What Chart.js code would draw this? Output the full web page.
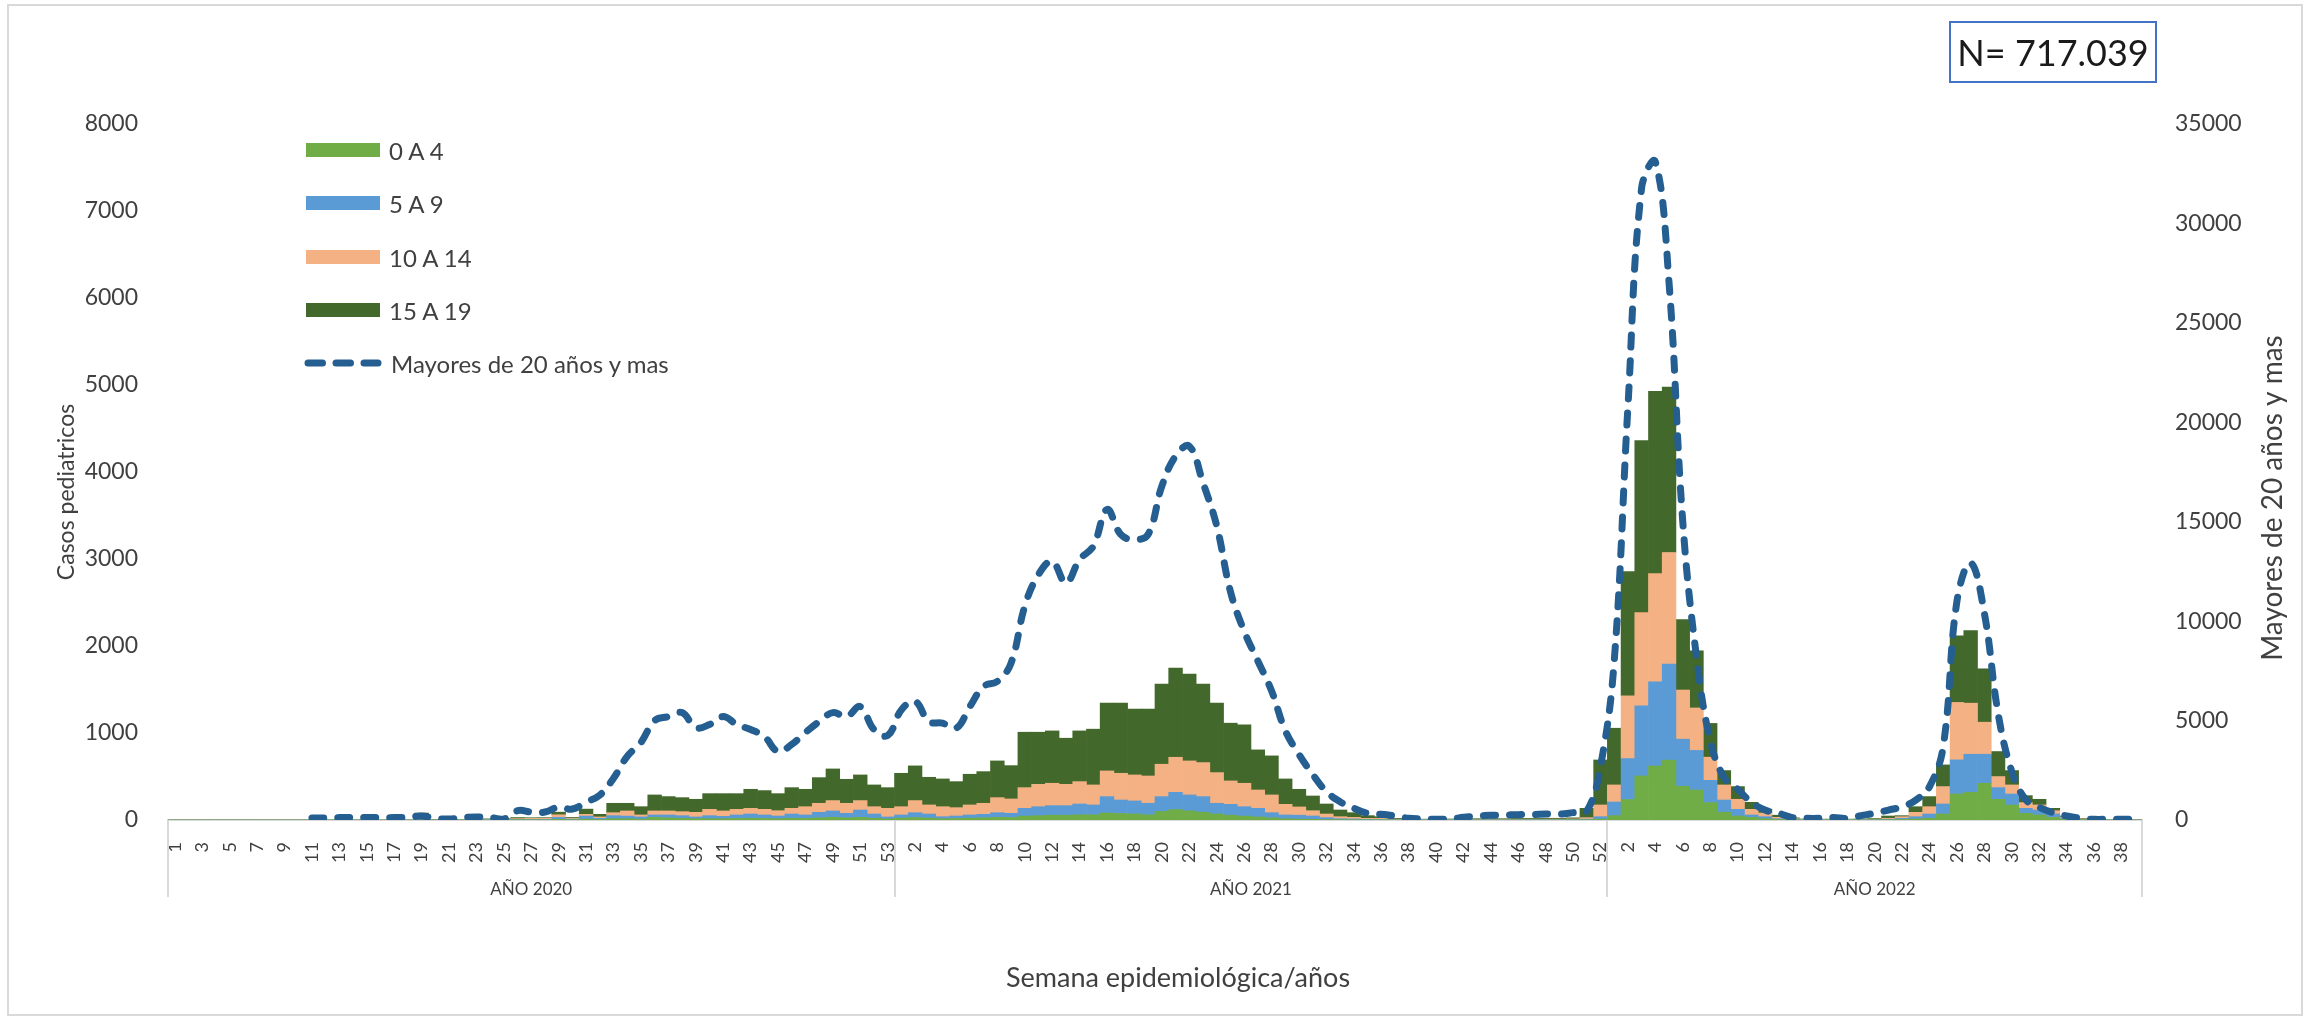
<!DOCTYPE html>
<html>
<head>
<meta charset="utf-8">
<script src="https://cdn.jsdelivr.net/npm/chart.js@4.4.1/dist/chart.umd.min.js"></script>
<style>
  body { margin: 0; background: #fff; }
  #wrap { position: relative; width: 2323px; height: 1020px; font-family: Lato, "Open Sans", sans-serif; color: #404040; }
  #c { position: absolute; left: 0; top: 0; }
  .leg { position: absolute; left: 304px; height: 30px; display: flex; align-items: center; font-size: 24px; white-space: nowrap; }
  .sw { width: 74px; height: 14px; margin-left: 2px; margin-right: 9px; }
  .nbox { position: absolute; left: 1949px; top: 21px; width: 204px; height: 58px; border: 2px solid #4472C4; font-size: 36px; color: #1a1a1a; display: flex; align-items: center; justify-content: center; }
</style>
</head>
<body>
<div id="wrap">
  <canvas id="c" width="2323" height="1020"></canvas>
  <div class="nbox">N= 717.039</div>
  <div id="legend"></div>
</div>
<script>
// ---- categories / tick labels ----
const years = ["AÑO 2020", "AÑO 2021", "AÑO 2022"];
const weeks2020 = [1,2,3,4,5,6,7,8,9,10,11,12,13,14,15,16,17,18,19,20,21,22,23,24,25,26,27,28,29,30,31,32,33,34,35,36,37,38,39,40,41,42,43,44,45,46,47,48,49,50,51,52,53];
const weeks2021 = [1,2,3,4,5,6,7,8,9,10,11,12,13,14,15,16,17,18,19,20,21,22,23,24,25,26,27,28,29,30,31,32,33,34,35,36,37,38,39,40,41,42,43,44,45,46,47,48,49,50,51,52];
const weeks2022 = [1,2,3,4,5,6,7,8,9,10,11,12,13,14,15,16,17,18,19,20,21,22,23,24,25,26,27,28,29,30,31,32,33,34,35,36,37,38,39];
const axisTitles = { x: "Semana epidemiológica/años", left: "Casos pediatricos", right: "Mayores de 20 años y mas" };

// ---- series (pediatric, left axis) ----
const age0to4 = [
  // 2020
  0,0,0,0,0,0,0,0,0,0,0,0,0,0,0,0,0,0,
  2,0,0,1,1,1,1,2,2,2, 8,3,10,5,15,15,10,30,25,20, 15,15,15,18,20,18,15,20,18,25, 31,25,30,20,12,
  // 2021
  22,28,22,15,18,22,25,30,28,45, 50,55,55,60,60,80,75,70,60,100, 120,105,90,70,55,45,35,25,15,10,
  8,5,4,3,2,2,1,1,1,1, 1,1,1,1,1,1,1,1,1,2, 3,10,
  // 2022
  50,235,506,621,688,388,345,200,90,46, 31,15,6,3,1,1,1,1,1,2, 3,6,12,20,69,299,318,422,238,173,
  77,58,30,10,4,1,1,1,0
];
const age5to9 = [
  0,0,0,0,0,0,0,0,0,0,0,0,0,0,0,0,0,0,
  3,1,1,1,2,2,2,4,4,5, 22,8,35,15,35,30,25,28,33,30, 20,35,27,40,49,40,31,49,40,63, 73,52,85,49,23,
  36,56,47,23,28,36,40,54,49,89, 103,110,110,124,113,189,155,149,132,169, 198,183,179,122,125,108,99,59,43,45,
  38,22,11,9,6,4,3,2,1,1, 2,2,2,2,2,3,3,3,3,4, 7,28,
  157,472,807,967,1105,541,455,256,140,77, 27,23,9,5,2,2,2,2,2,3, 6,13,26,49,115,392,438,334,134,126,
  57,57,39,12,5,2,1,1,1
];
const age10to14 = [
  0,0,0,0,0,0,0,0,0,0,0,0,0,0,0,0,0,0,
  5,2,2,2,3,4,4,10,12,12, 30,10,20,15,34,59,23,46,46,46, 53,73,62,65,65,65,61,65,95,104, 119,115,108,84,99,
  95,139,104,115,96,115,127,173,165,238, 257,257,245,257,230,295,307,299,314,372, 403,391,391,353,269,269,211,204,122,95,
  61,42,23,19,11,13,6,3,3,3, 3,3,4,4,4,5,5,6,6,7, 17,135,
  196,720,1070,1243,1282,565,488,266,173,115, 65,42,16,7,4,3,3,3,4,6, 11,19,50,84,200,660,587,368,127,104,
  66,58,38,12,5,2,1,1,1
];
const age15to19 = [
  0,0,0,0,0,0,0,0,0,0,0,0,0,0,0,0,0,0,
  70,5,3,4,5,6,8,12,8,8, 30,9,60,30,108,88,95,184,165,161, 150,180,199,180,219,215,196,238,200,295, 364,276,295,250,238,
  384,399,318,319,299,353,364,422,383,637, 599,602,530,583,641,779,806,756,768,921, 1025,998,902,798,664,672,461,449,292,203,
  169,115,77,53,31,19,9,6,5,5, 6,6,8,8,8,9,9,10,10,12, 107,517,
  652,1428,1979,2095,1902,811,657,388,165,146, 80,45,24,10,5,4,4,4,5,7, 26,12,65,116,249,767,833,614,288,165,
  80,65,27,12,5,1,1,0,0
];
// ---- adults (right axis) ----
const adults20plus = [
  null,null,null,null,null,null,null,null,null,null,
  100,100,120,120,120,120,120,130,200,80, 50,120,150,130,50,470,400,400,650,550,
  900,1250,2100,3200,3900,5000,5200,5400,4650,4800, 5200,4800,4550,4200,3450,3800,4400,4950,5400,5200,
  5700,4550,4250,
  5540,5960,4950,4870,4620,5710,6720,6970,7890,10750, 12340,13010,11920,13100,13770,15620,14360,14100,14360,16790,
  18300,18800,16960,14800,11500,9500,8000,6500,4500,3300, 2300,1430,920,590,340,285,200,85,50,35,
  50,134,200,235,250,270,270,300,300,370, 450,2700,
  8000,20800,31800,33100,27000,15000,8200,4000,2150,1550, 900,500,340,120,85,85,120,85,220,340,
  500,670,1000,1680,3700,11000,12930,10400,5370,2440, 1040,640,370,200,85,35,35,35,35
];
const seriesNames = ["0 A 4", "5 A 9", "10 A 14", "15 A 19", "Mayores de 20 años y mas"];
const seriesColors = ["#70AD47", "#5B9BD5", "#F4B183", "#43682B", "#255E91"];
const leftTicks = [0, 8000, 1000];
const rightTicks = [0, 35000, 5000];

// ---- build ----
const weekLabels = [].concat(weeks2020, weeks2021, weeks2022);
const groupSizes = [weeks2020.length, weeks2021.length, weeks2022.length];
const TXT = "#404040";
const FONT = "Lato, 'Open Sans', sans-serif";
Chart.defaults.font.family = FONT;
Chart.defaults.color = TXT;

const groupPlugin = {
  id: 'groups',
  beforeDraw(chart) {
    const ctx = chart.ctx;
    ctx.save();
    ctx.fillStyle = '#fff';
    ctx.fillRect(0, 0, chart.width, chart.height);
    ctx.strokeStyle = '#D9D9D9';
    ctx.lineWidth = 2;
    ctx.strokeRect(8, 5, 2294, 1010);
    ctx.restore();
  },
  afterDraw(chart) {
    const xs = chart.scales.x, ctx = chart.ctx, ca = chart.chartArea;
    const half = (xs.getPixelForValue(1) - xs.getPixelForValue(0)) / 2;
    const yTop = ca.bottom, yBot = yTop + 77;
    ctx.save();
    ctx.strokeStyle = '#D9D9D9';
    ctx.lineWidth = 2;
    let idx = 0;
    const edges = [xs.getPixelForValue(0) - half];
    groupSizes.forEach(n => { idx += n; edges.push(xs.getPixelForValue(idx - 1) + half); });
    edges.forEach(px => { ctx.beginPath(); ctx.moveTo(Math.round(px), yTop); ctx.lineTo(Math.round(px), yBot); ctx.stroke(); });
    ctx.fillStyle = TXT;
    ctx.textAlign = 'center';
    ctx.textBaseline = 'middle';
    ctx.font = "17px " + FONT;
    years.forEach((y, i) => { ctx.fillText(y, (edges[i] + edges[i + 1]) / 2, yTop + 70); });
    // axis titles
    const midY = (ca.top + ca.bottom) / 2;
    ctx.font = "27px " + FONT;
    ctx.fillText(axisTitles.x, (ca.left + ca.right) / 2 + 23, ca.bottom + 158);
    ctx.save();
    ctx.translate(ca.left - 101, midY + 20);
    ctx.rotate(-Math.PI / 2);
    ctx.font = "23px " + FONT;
    ctx.fillText(axisTitles.left, 0, 0);
    ctx.restore();
    ctx.save();
    ctx.translate(ca.right + 131, midY + 26);
    ctx.rotate(-Math.PI / 2);
    ctx.font = "28px " + FONT;
    ctx.fillText(axisTitles.right, 0, 0);
    ctx.restore();
    ctx.restore();
  }
};

const barDs = (i, data) => ({
  type: 'bar', label: seriesNames[i], data, backgroundColor: seriesColors[i],
  borderWidth: 0, stack: 'ped', yAxisID: 'y', barPercentage: 1.0, categoryPercentage: 1.0, order: 2
});

new Chart(document.getElementById('c'), {
  data: {
    labels: weekLabels,
    datasets: [
      barDs(0, age0to4), barDs(1, age5to9), barDs(2, age10to14), barDs(3, age15to19),
      {
        type: 'line', label: seriesNames[4], data: adults20plus, yAxisID: 'y2',
        borderColor: seriesColors[4], borderWidth: 7, borderDash: [12, 14], borderCapStyle: 'round',
        pointRadius: 0, tension: 0.4, fill: false, order: 0, spanGaps: false
      }
    ]
  },
  options: {
    responsive: false, animation: false, devicePixelRatio: 1,
    layout: { padding: { left: 54, right: 37, top: 124, bottom: 29 } },
    plugins: { legend: { display: false }, tooltip: { enabled: false } },
    scales: {
      x: {
        stacked: true, offset: true,
        grid: { display: false },
        border: { display: true, color: '#D9D9D9', width: 2 },
        ticks: {
          autoSkip: false, maxRotation: 90, minRotation: 90, padding: 14,
          font: { size: 18 }, color: TXT,
          callback: function(v, i) { return i % 2 === 0 ? this.getLabelForValue(v) : ''; }
        },
        afterFit(s) { s.height = 171; }
      },
      y: {
        stacked: true, position: 'left', min: leftTicks[0], max: leftTicks[1],
        grid: { display: false }, border: { display: false },
        ticks: { stepSize: leftTicks[2], padding: 22, font: { size: 23 }, color: TXT, callback: v => String(v) },
        afterFit(s) { s.width = 114; }
      },
      y2: {
        position: 'right', min: rightTicks[0], max: rightTicks[1],
        grid: { display: false }, border: { display: false },
        ticks: { stepSize: rightTicks[2], padding: 25, font: { size: 23 }, color: TXT, callback: v => String(v) },
        afterFit(s) { s.width = 144; }
      }
    }
  },
  plugins: [groupPlugin]
});

// ---- legend (HTML) ----
const legTops = [150, 203, 257, 310, 363];
const legend = document.getElementById('legend');
seriesNames.forEach((name, i) => {
  const d = document.createElement('div');
  d.className = 'leg';
  d.style.top = (legTops[i] - 15) + 'px';
  let sw;
  if (i < 4) {
    sw = `<div class="sw" style="background:${seriesColors[i]}"></div>`;
  } else {
    sw = `<svg width="78" height="14" style="margin-right:9px"><line x1="4" y1="7" x2="74" y2="7" stroke="${seriesColors[i]}" stroke-width="7" stroke-linecap="round" stroke-dasharray="14.5 13.5"/></svg>`;
  }
  d.innerHTML = sw + `<span>${name}</span>`;
  legend.appendChild(d);
});
</script>
</body>
</html>
